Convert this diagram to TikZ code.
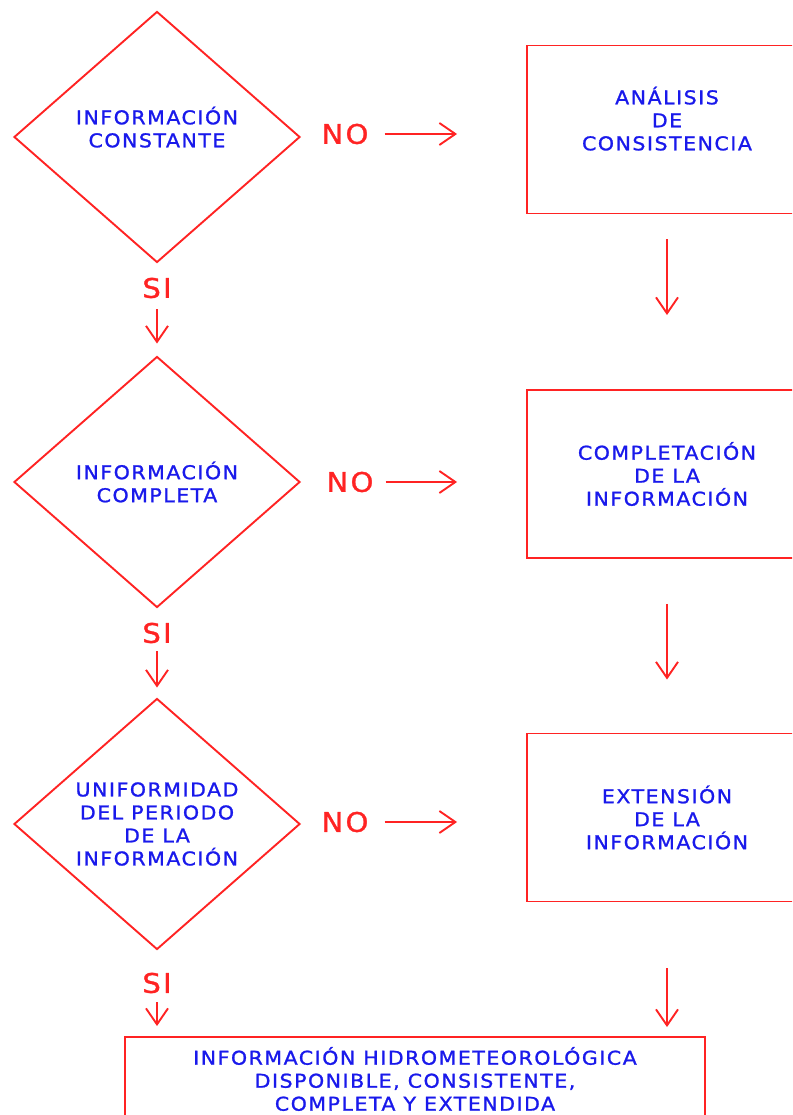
\documentclass[tikz,border=0pt]{standalone}
\usepackage{fontspec}
\setmainfont{DejaVu Sans}
\newfontfamily\cadfont[LetterSpace=8,FakeStretch=1.08,FakeBold=1.2]{DejaVu Sans}
\usetikzlibrary{shapes.geometric,arrows.meta}
\definecolor{cadred}{RGB}{255,35,35}
\definecolor{cadblue}{RGB}{25,25,235}
\begin{document}
\begin{tikzpicture}[x=1pt,y=-1pt,
    decision/.style={diamond,draw=cadred,line width=1.9pt,inner sep=0pt,
      minimum width=286pt,minimum height=251pt,text=cadblue,align=center,
      font=\cadfont\fontsize{19}{23}\selectfont},
    process/.style={rectangle,draw=cadred,line width=1.9pt,inner sep=0pt,
      minimum width=280pt,minimum height=168pt,text=cadblue,align=center,
      font=\cadfont\fontsize{19}{23}\selectfont},
    answer/.style={text=cadred,inner sep=0pt,font=\cadfont\fontsize{27}{30}\selectfont},
    arr/.style={-{Straight Barb[length=16pt,width=22pt]},draw=cadred,line width=1.9pt}]
    \useasboundingbox (0,0) rectangle (792,1115);
    \clip (0,0) rectangle (792,1115);

    % decisions
    \node[decision,text depth=20pt] (d1) at (157,137) {INFORMACIÓN\\CONSTANTE};
    \node[decision] (d2) at (157,482) {INFORMACIÓN\\COMPLETA};
    \node[decision] (d3) at (157,824) {UNIFORMIDAD\\DEL PERIODO\\DE LA\\INFORMACIÓN};

    % processes
    \node[process,text depth=22pt] (b1) at (667,129.5) {ANÁLISIS\\DE\\CONSISTENCIA};
    \node[process] (b2) at (667,474) {COMPLETACIÓN\\DE LA\\INFORMACIÓN};
    \node[process] (b3) at (667,817.5) {EXTENSIÓN\\DE LA\\INFORMACIÓN};
    \node[process,minimum width=580pt,minimum height=84pt] (fin) at (415,1079)
        {INFORMACIÓN HIDROMETEOROLÓGICA\\DISPONIBLE, CONSISTENTE,\\COMPLETA Y EXTENDIDA};

    % NO branches
    \node[answer] (no1) at (345,134) {NO};
    \node[answer] (no2) at (350,482) {NO};
    \node[answer] (no3) at (345,822) {NO};
    \draw[arr,shorten <=16pt,shorten >=69pt] (no1.east) -- (b1.west |- no1.east);
    \draw[arr,shorten <=12pt,shorten >=69pt] (no2.east) -- (b2.west |- no2.east);
    \draw[arr,shorten <=16pt,shorten >=69pt] (no3.east) -- (b3.west |- no3.east);

    % SI branches
    \node[answer] (si1) at (157,288) {SI};
    \node[answer] (si2) at (157,633) {SI};
    \node[answer] (si3) at (157,983) {SI};
    \draw[arr,shorten <=11pt,shorten >=12pt] (si1.south) -- (d2.north);
    \draw[arr,shorten <=8pt,shorten >=10pt] (si2.south) -- (d3.north);
    \draw[arr,shorten <=9pt,shorten >=10pt] (si3.south) -- (si3.south |- fin.north);

    % process to process
    \draw[arr,shorten <=25pt,shorten >=74pt] (b1.south) -- (b2.north);
    \draw[arr,shorten <=45pt,shorten >=53pt] (b2.south) -- (b3.north);
    \draw[arr,shorten <=66pt,shorten >=9pt] (b3.south) -- (b3.south |- fin.north);
\end{tikzpicture}
\end{document}
